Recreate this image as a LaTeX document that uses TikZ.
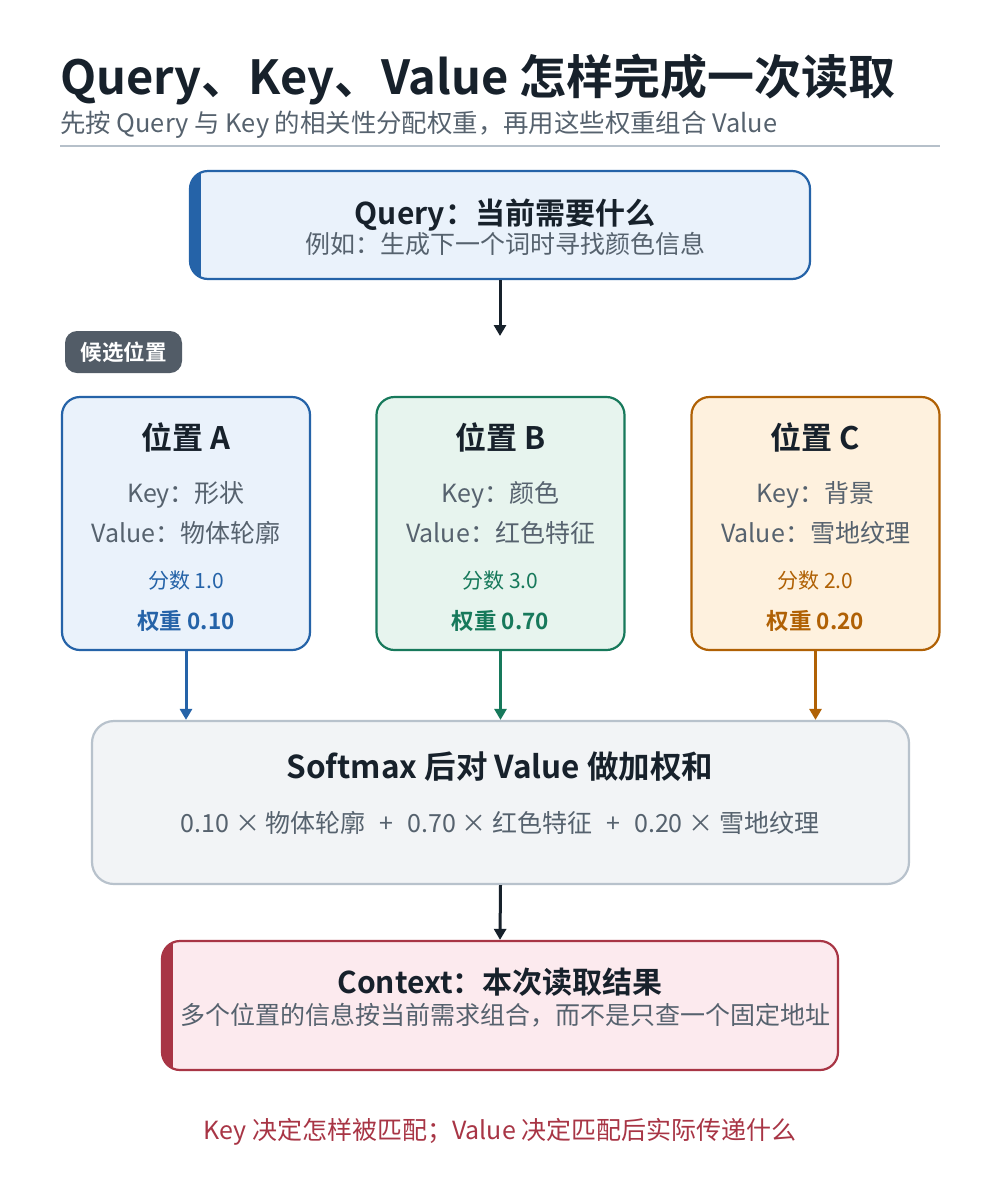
\documentclass[tikz,border=0pt]{standalone}
\usepackage{fontspec}
\setmainfont{Noto Sans CJK SC}[BoldFont={Noto Sans CJK SC Bold}]
\usetikzlibrary{arrows.meta}
\definecolor{ink}{HTML}{17212B}
\definecolor{muted}{HTML}{56626E}
\definecolor{rulec}{HTML}{B6C0CA}
\definecolor{qblue}{HTML}{2563A8}
\definecolor{qfill}{HTML}{EAF2FB}
\definecolor{bgreen}{HTML}{17795B}
\definecolor{bfill}{HTML}{E7F4EE}
\definecolor{corange}{HTML}{B06105}
\definecolor{cfill}{HTML}{FEF1DE}
\definecolor{sfill}{HTML}{F2F4F6}
\definecolor{sline}{HTML}{B8C2CC}
\definecolor{ctxred}{HTML}{A83545}
\definecolor{ctxfill}{HTML}{FCEAEE}
\definecolor{badgec}{HTML}{525C67}
\tikzset{
  panel/.style={draw=#1, line width=2.2pt, rounded corners=18pt, inner sep=0pt},
  conn/.style={line width=3pt, draw=#1, -{Triangle[width=12pt,length=11pt]}, shorten >=0pt},
  ttl/.style={font=\fontsize{30}{34}\selectfont\bfseries, text=ink, inner sep=0pt},
  sub/.style={font=\fontsize{25}{30}\selectfont, text=muted, inner sep=0pt},
}
\begin{document}
\begin{tikzpicture}[x=1pt,y=-1pt]
\useasboundingbox[fill=white] (0,0) rectangle (1000,1200);
% header
\node[anchor=base west, inner sep=0pt, text=ink, font=\fontsize{47}{52}\selectfont\bfseries] (title) at (60,94) {Query、Key、Value 怎样完成一次读取};
\node[anchor=base west, inner sep=0pt, text=muted, font=\fontsize{25.4}{28}\selectfont] (subtitle) at (60,132) {先按 Query 与 Key 的相关性分配权重，再用这些权重组合 Value};
\draw[rulec, line width=1.5pt] (60,146) -- (940,146);
% Query box
\node[panel=qblue, fill=qfill, minimum width=620pt, minimum height=108pt] (q) at (500,225) {};
\begin{scope}
\clip[rounded corners=18pt] (190,171) rectangle (810,279);
\fill[qblue] (188,168) rectangle (201,282);
\end{scope}
\node[ttl, anchor=base] (qt) at (505,224) {Query：当前需要什么};
\node[sub, anchor=base] (qs) at (505,253) {例如：生成下一个词时寻找颜色信息};
\coordinate (qend) at (500,336);
\draw[conn=ink] (q.south) -- (qend);
% badge
\node[fill=badgec, rounded corners=12pt, minimum width=117pt, minimum height=42pt, inner sep=0pt, text=white, font=\fontsize{21.5}{24}\selectfont\bfseries] (badge) at (123.5,352) {候选位置};
% position boxes
\foreach \n/\cx/\col/\fil/\ttx/\k/\v/\sc/\w in {
  A/186/qblue/qfill/位置 A/形状/物体轮廓/1.0/0.10,
  B/500.5/bgreen/bfill/位置 B/颜色/红色特征/3.0/0.70,
  C/815.5/corange/cfill/位置 C/背景/雪地纹理/2.0/0.20}{
  \node[panel=\col, fill=\fil, minimum width=248pt, minimum height=253pt] (\n) at (\cx,523.5) {};
  \node[ttl, anchor=base, font=\fontsize{31}{34}\selectfont\bfseries] (\n t) at (\cx,449) {\ttx};
  \node[sub, anchor=base] (\n k) at (\cx,502) {Key：\k};
  \node[sub, anchor=base] (\n v) at (\cx,542) {Value：\v};
  \node[inner sep=0pt, anchor=base, text=\col, font=\fontsize{21}{24}\selectfont] (\n s) at (\cx,588) {分数 \sc};
  \node[inner sep=0pt, anchor=base, text=\col, font=\fontsize{22.5}{26}\selectfont\bfseries] (\n w) at (\cx,629) {权重 \w};
}
% softmax box
\node[panel=sline, fill=sfill, rounded corners=22pt, minimum width=817pt, minimum height=163pt] (s) at (500.5,802.5) {};
\node[ttl, anchor=base, font=\fontsize{31.5}{36}\selectfont\bfseries] (st) at (500,778) {Softmax 后对 Value 做加权和};
\node[sub, anchor=base] (sf) at (500,832) {0.10 × 物体轮廓\hspace{14pt}+\hspace{14pt}0.70 × 红色特征\hspace{14pt}+\hspace{14pt}0.20 × 雪地纹理};
\draw[conn=qblue] (A.south) -- (A.south |- s.north);
\draw[conn=bgreen] (B.south) -- (B.south |- s.north);
\draw[conn=corange] (C.south) -- (C.south |- s.north);
% context box
\node[panel=ctxred, fill=ctxfill, minimum width=676pt, minimum height=129pt] (c) at (500,1005.5) {};
\begin{scope}
\clip[rounded corners=18pt] (162,941) rectangle (838,1070);
\fill[ctxred] (160,938) rectangle (173,1073);
\end{scope}
\node[ttl, anchor=base] (ct) at (500,993) {Context：本次读取结果};
\node[sub, anchor=base] (cs) at (505,1024) {多个位置的信息按当前需求组合，而不是只查一个固定地址};
\draw[conn=ink] (s.south) -- (c.north);
% footer
\node[anchor=base, inner sep=0pt, text=ctxred, font=\fontsize{25}{30}\selectfont] (foot) at (500,1139) {Key 决定怎样被匹配；Value 决定匹配后实际传递什么};
\end{tikzpicture}
\end{document}
